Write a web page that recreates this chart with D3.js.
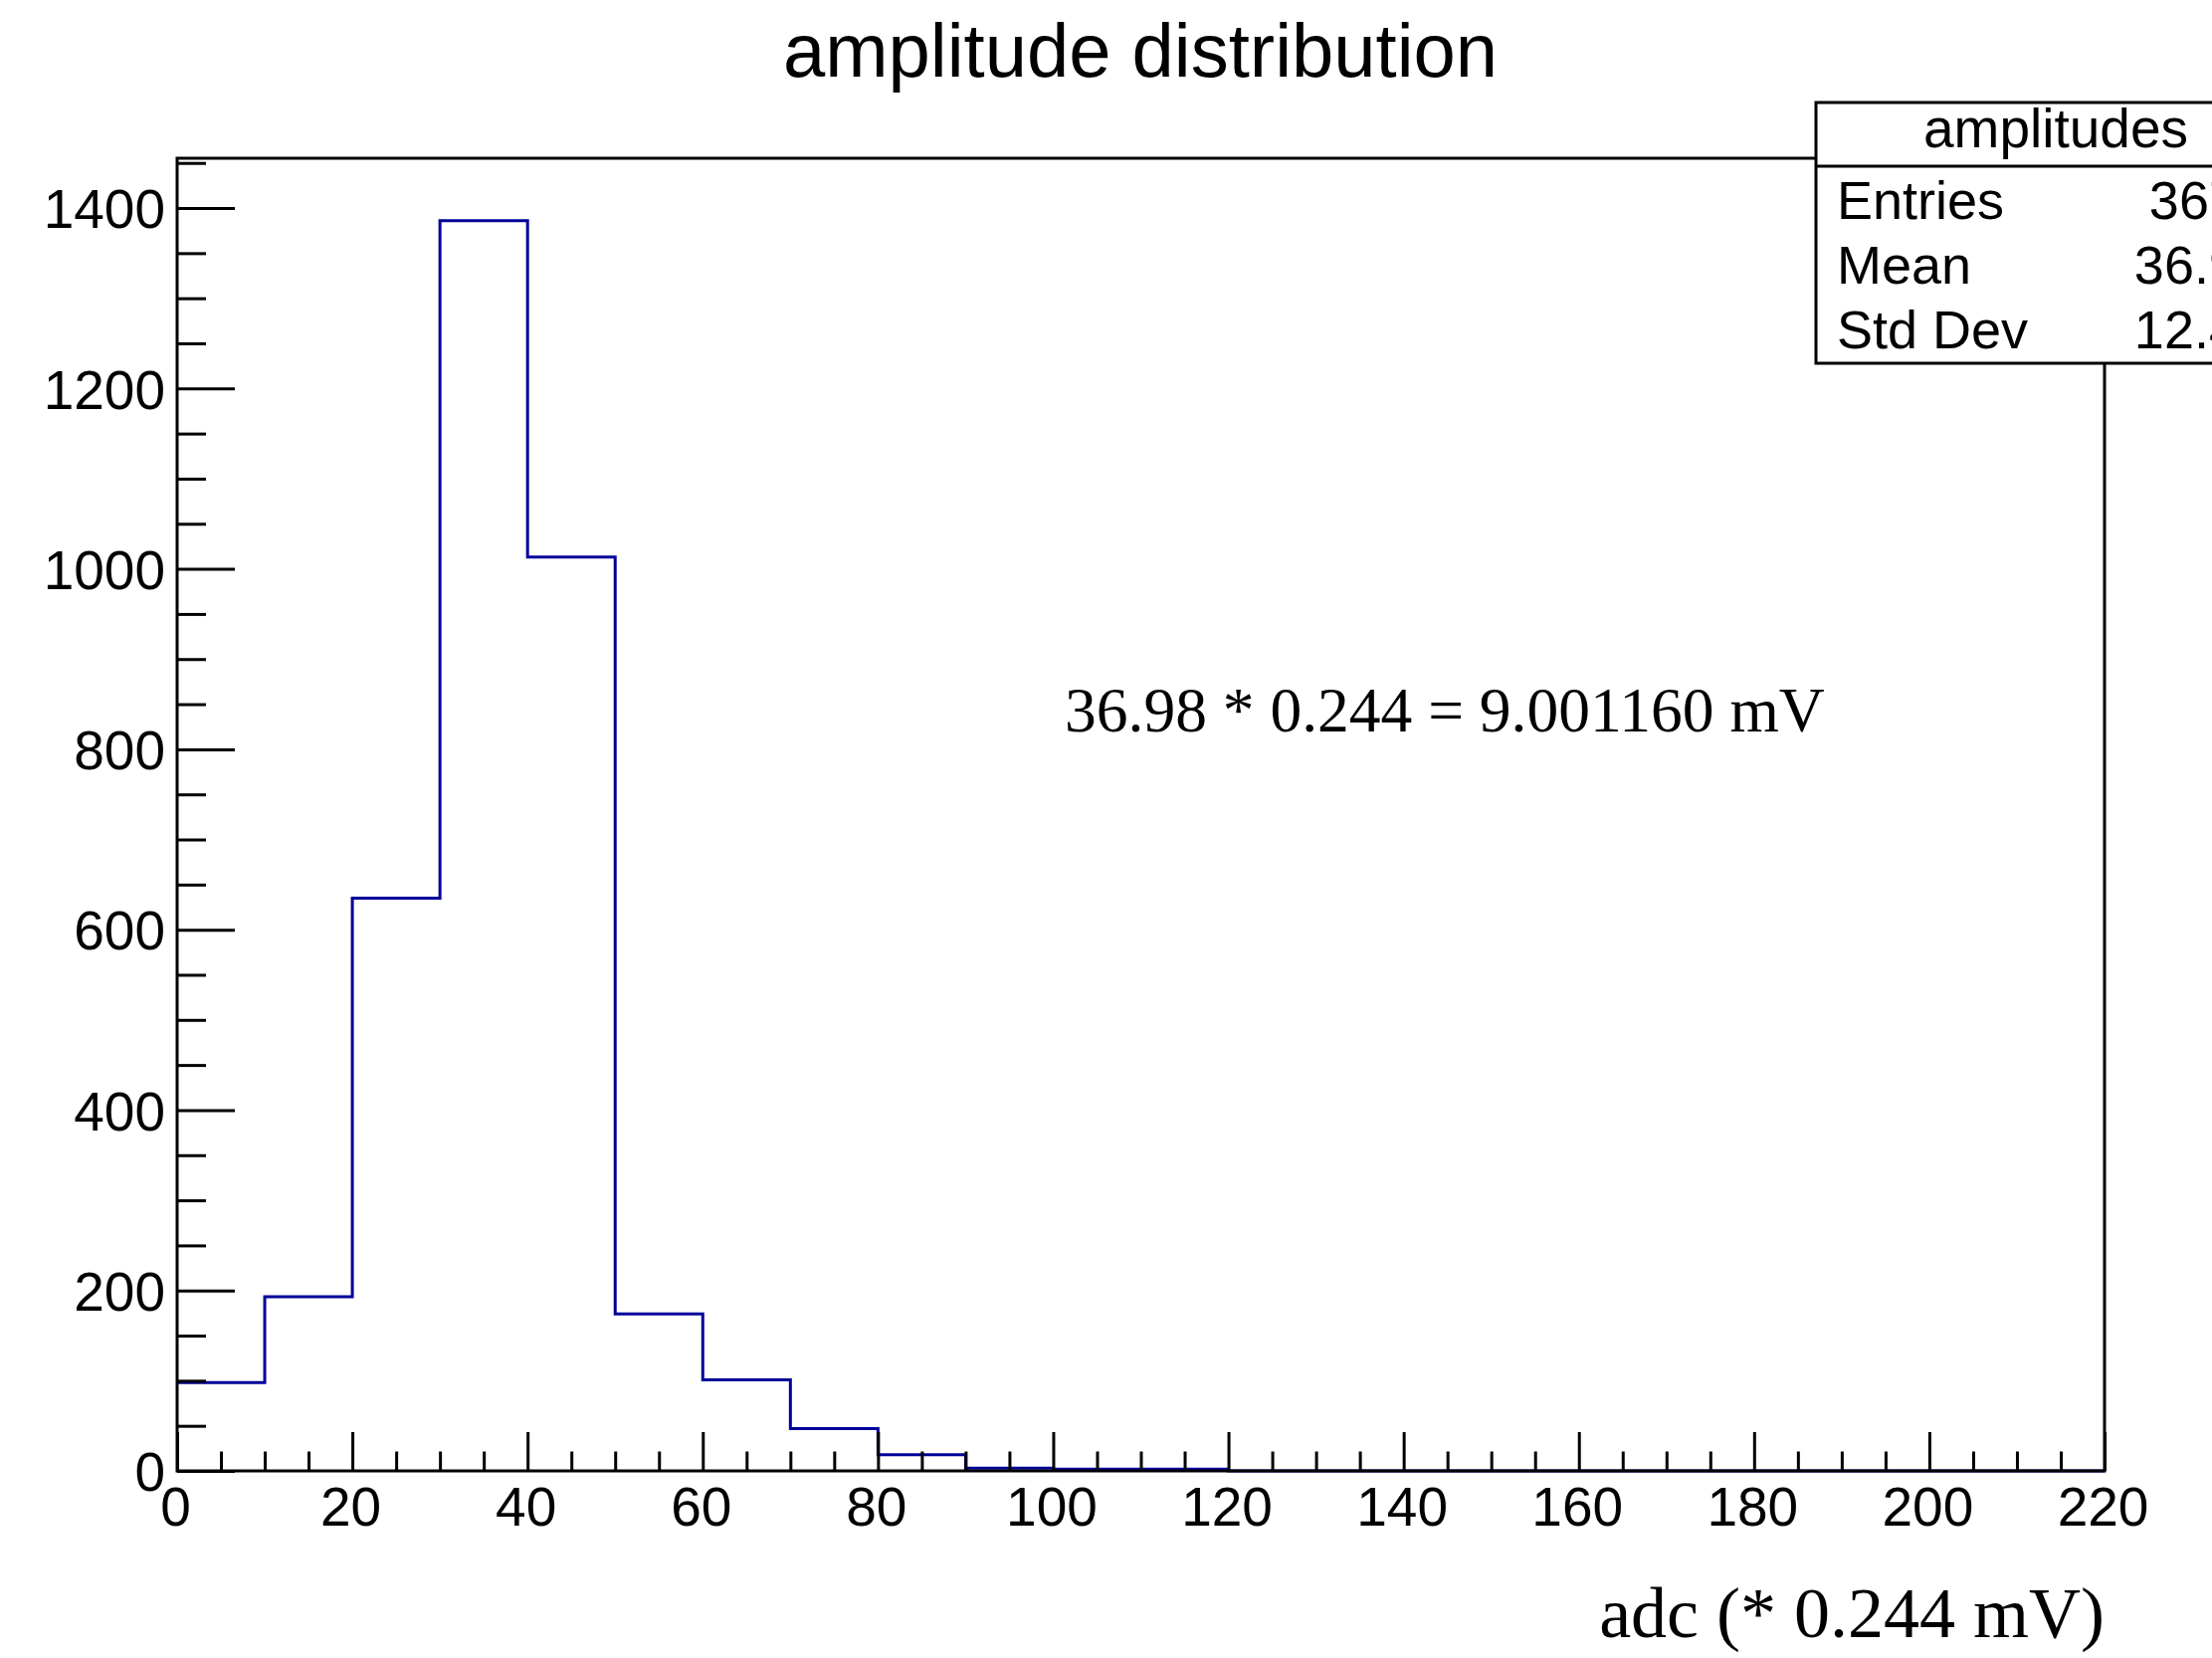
<!DOCTYPE html>
<meta charset="utf-8">
<style>
body { margin: 0; background: #fff; }
svg { display: block; }
.tick text { font-family: "Liberation Sans", Arial, sans-serif; font-size: 55px; fill: #000; }
.tick line { stroke: #000; stroke-width: 3px; }
.hist { fill: none; stroke: #000099; stroke-width: 3px; }
</style>
<body>
<script src="https://d3js.org/d3.v7.min.js"></script>
<script>

// histogram contents (10 adc wide bins)
var binLow = [0, 10, 20, 30, 40, 50, 60, 70, 80, 90, 100,
              110, 120, 130, 140, 150, 160, 170, 180, 190, 200, 210];
var counts = [98, 193, 635, 1386, 1013, 174, 101, 47, 18, 3, 2,
              2, 0, 0, 0, 0, 0, 0, 0, 0, 0, 0];
var xMajor = [0, 20, 40, 60, 80, 100, 120, 140, 160, 180, 200, 220];
var yMajor = [0, 200, 400, 600, 800, 1000, 1200, 1400];
var statNames = ["Entries", "Mean", "Std Dev"];
var statValues = ["3672", "36.98", "12.47"];

var W = 2223, H = 1666;
var margin = {top: 159, right: 108, bottom: 188, left: 178},
    width = W - margin.left - margin.right,
    height = H - margin.top - margin.bottom;

var x = d3.scaleLinear().domain([0, 220]).range([0, width]);
var y = d3.scaleLinear().domain([0, 1455.2]).range([height, 0]);

var svg = d3.select("body").append("svg")
    .attr("width", W)
    .attr("height", H);

var g = svg.append("g")
    .attr("transform", "translate(" + margin.left + "," + margin.top + ")");

// histogram outline
var pts = binLow.map(function(b, i) { return [b, counts[i]]; });
pts.push([220, counts[counts.length - 1]]);
var step = d3.line()
    .x(function(d) { return x(d[0]); })
    .y(function(d) { return y(d[1]); })
    .curve(d3.curveStepAfter);

g.append("path")
    .datum(pts)
    .attr("class", "hist")
    .attr("d", step);

// minor ticks
var xMinor = d3.range(0, 221, 5).filter(function(v) { return v % 20 != 0; });
var yMinor = d3.range(0, 1451, 50).filter(function(v) { return v % 200 != 0; });

g.append("g")
    .attr("transform", "translate(0," + height + ")")
    .call(d3.axisBottom(x).tickValues(xMinor).tickSize(-19.5).tickSizeOuter(0).tickFormat(""))
    .call(function(a) { a.select(".domain").remove(); });

g.append("g")
    .call(d3.axisLeft(y).tickValues(yMinor).tickSize(-29).tickSizeOuter(0).tickFormat(""))
    .call(function(a) { a.select(".domain").remove(); });

// major ticks with labels
g.append("g")
    .attr("transform", "translate(0," + height + ")")
    .call(d3.axisBottom(x).tickValues(xMajor).tickSize(-39).tickSizeOuter(0).tickPadding(16)
        .tickFormat(d3.format("d")))
    .call(function(a) { a.select(".domain").remove(); a.selectAll("text").attr("x", -2); });

g.append("g")
    .call(d3.axisLeft(y).tickValues(yMajor).tickSize(-58).tickSizeOuter(0).tickPadding(12)
        .tickFormat(d3.format("d")))
    .call(function(a) { a.select(".domain").remove(); a.selectAll("text").attr("dy", "0.36em"); });

// frame
g.append("rect")
    .attr("width", width)
    .attr("height", height)
    .attr("fill", "none")
    .attr("stroke", "#000")
    .attr("stroke-width", 3);

// title
svg.append("text")
    .attr("x", 1146)
    .attr("y", 77)
    .attr("text-anchor", "middle")
    .attr("font-family", "Liberation Sans, Arial, sans-serif")
    .attr("font-size", "76px")
    .text("amplitude distribution");

// x axis title
svg.append("text")
    .attr("x", margin.left + width)
    .attr("y", 1645)
    .attr("text-anchor", "end")
    .attr("font-family", "Liberation Serif, Times New Roman, serif")
    .attr("font-size", "72px")
    .text("adc (* 0.244 mV)");

// annotation
svg.append("text")
    .attr("x", 1070)
    .attr("y", 735)
    .attr("font-family", "Liberation Serif, Times New Roman, serif")
    .attr("font-size", "63.5px")
    .text("36.98 * 0.244 = 9.001160 mV");

// stats box
var box = svg.append("g");
box.append("rect")
    .attr("x", 1825)
    .attr("y", 103)
    .attr("width", 482)
    .attr("height", 262)
    .attr("fill", "#fff")
    .attr("stroke", "#000")
    .attr("stroke-width", 3);
box.append("line")
    .attr("x1", 1825).attr("x2", 2307)
    .attr("y1", 167).attr("y2", 167)
    .attr("stroke", "#000")
    .attr("stroke-width", 3);
box.append("text")
    .attr("x", 2066)
    .attr("y", 148)
    .attr("text-anchor", "middle")
    .attr("font-family", "Liberation Sans, Arial, sans-serif")
    .attr("font-size", "55px")
    .text("amplitudes");

statNames.forEach(function(n, i) {
  box.append("text")
      .attr("x", 1846)
      .attr("y", 220 + i * 65)
      .attr("font-family", "Liberation Sans, Arial, sans-serif")
      .attr("font-size", "54px")
      .text(n);
  box.append("text")
      .attr("x", 2280)
      .attr("y", 220 + i * 65)
      .attr("text-anchor", "end")
      .attr("font-family", "Liberation Sans, Arial, sans-serif")
      .attr("font-size", "54px")
      .text(statValues[i]);
});

</script>
</body>
